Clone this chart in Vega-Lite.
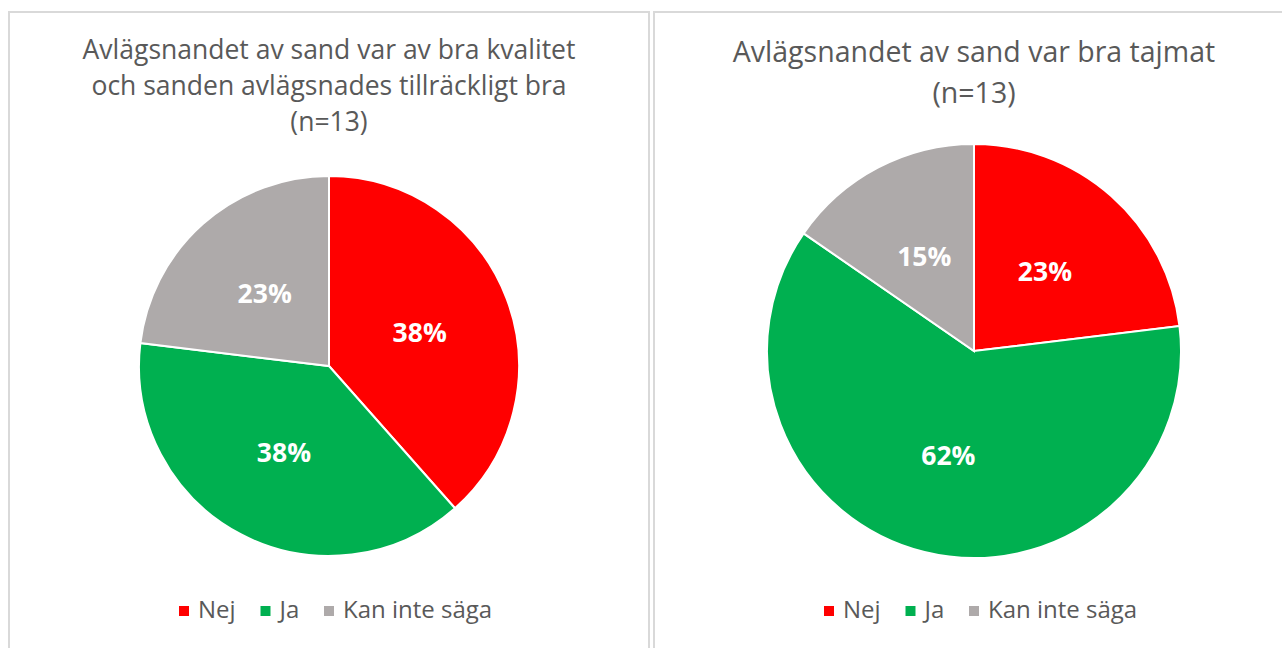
{
  "$schema": "https://vega.github.io/schema/vega-lite/v6.json",
  "background": "white",
  "padding": {"left": 8, "top": 11, "right": 0, "bottom": 0},
  "spacing": 3,
  "config": {
    "view": {"stroke": "#D9D9D9", "strokeWidth": 2},
    "font": "Open Sans",
    "title": {"font": "Open Sans", "fontWeight": "normal", "color": "#595959", "anchor": "middle", "frame": "group"},
    "legend": {"orient": "none", "direction": "horizontal", "legendX": 163, "legendY": 587, "title": null, "symbolType": "square", "symbolSize": 100, "symbolStrokeWidth": 0, "labelFont": "Open Sans", "labelFontSize": 24, "labelColor": "#595959", "labelOffset": 2, "columnPadding": 17.5, "labelLimit": 300}
  },
  "resolve": {"legend": {"color": "independent"}},
  "datasets": {
    "kvalitet": [
      {"nr": 1, "svar": "Nej", "antal": 5, "etikett": "38%"},
      {"nr": 2, "svar": "Ja", "antal": 5, "etikett": "38%"},
      {"nr": 3, "svar": "Kan inte säga", "antal": 3, "etikett": "23%"}
    ],
    "tajmat": [
      {"nr": 1, "svar": "Nej", "antal": 3, "etikett": "23%"},
      {"nr": 2, "svar": "Ja", "antal": 8, "etikett": "62%"},
      {"nr": 3, "svar": "Kan inte säga", "antal": 2, "etikett": "15%"}
    ]
  },
  "hconcat": [
    {
      "width": 640,
      "height": 708,
      "view": {"stroke": "#D9D9D9", "strokeWidth": 2, "fill": "white"},
      "title": {"text": ["Avlägsnandet av sand var av bra kvalitet", "och sanden avlägsnades tillräckligt bra", "(n=13)"], "offset": -124, "fontSize": 26.5, "lineHeight": 36},
      "data": {"name": "kvalitet"},
      "encoding": {
        "theta": {"field": "antal", "type": "quantitative", "stack": true},
        "order": {"field": "nr", "type": "quantitative"}
      },
      "layer": [
        {
          "mark": {"type": "arc", "outerRadius": 190, "stroke": "white", "strokeWidth": 2},
          "encoding": {
            "color": {"field": "svar", "type": "nominal", "sort": ["Nej", "Ja", "Kan inte säga"], "scale": {"domain": ["Nej", "Ja", "Kan inte säga"], "range": ["#FF0000", "#00B050", "#AEAAAA"]}}
          }
        },
        {
          "mark": {"type": "text", "radius": 97, "fontSize": 26.5, "fontWeight": "bold", "font": "Open Sans", "dy": 2},
          "encoding": {
            "text": {"field": "etikett"},
            "detail": {"field": "svar"},
            "color": {"value": "white"}
          }
        }
      ]
    },
    {
      "width": 640,
      "height": 678,
      "view": {"stroke": "#D9D9D9", "strokeWidth": 2, "fill": "white"},
      "title": {"text": ["Avlägsnandet av sand var bra tajmat", "(n=13)"], "offset": -96, "fontSize": 28.5, "lineHeight": 41},
      "data": {"name": "tajmat"},
      "encoding": {
        "theta": {"field": "antal", "type": "quantitative", "stack": true},
        "order": {"field": "nr", "type": "quantitative"}
      },
      "layer": [
        {
          "mark": {"type": "arc", "outerRadius": 207, "stroke": "white", "strokeWidth": 2},
          "encoding": {
            "color": {"field": "svar", "type": "nominal", "sort": ["Nej", "Ja", "Kan inte säga"], "scale": {"domain": ["Nej", "Ja", "Kan inte säga"], "range": ["#FF0000", "#00B050", "#AEAAAA"]}}
          }
        },
        {
          "mark": {"type": "text", "radius": 107, "fontSize": 26.5, "fontWeight": "bold", "font": "Open Sans", "dy": 2},
          "encoding": {
            "text": {"field": "etikett"},
            "detail": {"field": "svar"},
            "color": {"value": "white"}
          }
        }
      ]
    }
  ]
}
